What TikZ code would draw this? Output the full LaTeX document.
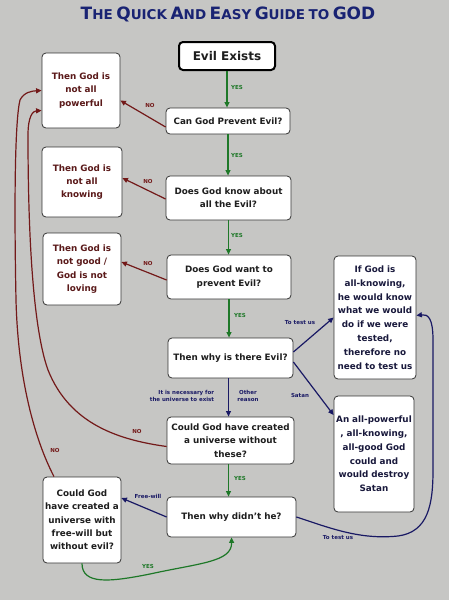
\documentclass[tikz,border=0pt]{standalone}
\usepackage{fontspec}
\setmainfont{DejaVu Sans}
\usetikzlibrary{arrows.meta}
\definecolor{bg}{RGB}{198,198,196}
\definecolor{redc}{RGB}{115,25,25}
\definecolor{greenc}{RGB}{30,120,40}
\definecolor{bluec}{RGB}{25,25,100}
\definecolor{titlec}{RGB}{25,35,115}
\definecolor{lefttxt}{RGB}{90,25,25}
\definecolor{midtxt}{RGB}{30,30,30}
\definecolor{righttxt}{RGB}{25,25,60}
\begin{document}
\begin{tikzpicture}[x=1pt,y=-1pt,
  box/.style={draw=black!80, fill=white, rounded corners=4pt, line width=0.8pt, align=center, inner sep=0pt,
    font=\fontsize{8.8}{13.3}\selectfont\bfseries},
  leftbox/.style={box, text=lefttxt},
  midbox/.style={box, text=midtxt},
  rightbox/.style={box, text=righttxt, font=\fontsize{8.8}{13.8}\selectfont\bfseries},
  arr/.style={line width=1.2pt, -{Triangle[length=5.5pt,width=5pt]}},
  garr/.style={arr, draw=greenc},
  rarr/.style={arr, draw=redc},
  barr/.style={arr, draw=bluec},
  lbl/.style={font=\fontsize{5.5}{6.5}\selectfont\bfseries, inner sep=0pt, align=center},
  glbl/.style={lbl, text=greenc},
  rlbl/.style={lbl, text=redc},
  blbl/.style={lbl, text=bluec},
  big/.style={}
]
\fill[bg] (0,0) rectangle (449,600);
\useasboundingbox (0,0) rectangle (449,600);

\newcommand{\bigL}[1]{{\fontsize{17}{18}\selectfont #1}}
\newcommand{\smallL}[1]{{\fontsize{13.5}{14}\selectfont #1}}
\node[text=titlec, font=\bfseries, inner sep=0pt] (title) at (228,14)
  {\bigL{T}\smallL{HE} \bigL{Q}\smallL{UICK} \bigL{A}\smallL{ND} \bigL{E}\smallL{ASY} \bigL{G}\smallL{UIDE} \smallL{TO} \bigL{GOD}};

\node[box, line width=2pt, draw=black, text=midtxt, font=\fontsize{12}{14}\selectfont\bfseries, minimum width=96pt, minimum height=28pt] (ev) at (227,56) {Evil Exists};

\node[leftbox, minimum width=78pt, minimum height=75pt, text width=74pt] (p1) at (81,90.5) {Then God is\\not all\\powerful};
\node[leftbox, minimum width=80pt, minimum height=70pt, text width=76pt] (p2) at (82,182) {Then God is\\not all\\knowing};
\node[leftbox, minimum width=78pt, minimum height=72pt, text width=74pt] (p3) at (82,269) {Then God is\\not good /\\God is not\\loving};
\node[leftbox, text=midtxt, minimum width=78pt, minimum height=86pt, text width=76pt] (p4) at (82,520) {Could God\\have created a\\universe with\\free-will but\\without evil?};

\node[midbox, minimum width=124pt, minimum height=26pt, text width=120pt] (q1) at (228,121) {Can God Prevent Evil?};
\node[midbox, minimum width=125pt, minimum height=44pt, text width=121pt] (q2) at (228.5,198) {Does God know about\\all the Evil?};
\node[midbox, minimum width=124pt, minimum height=44pt, text width=120pt] (q3) at (229,277) {Does God want to\\prevent Evil?};
\node[midbox, minimum width=125pt, minimum height=40pt, text width=121pt] (q4) at (230.5,358) {Then why is there Evil?};
\node[midbox, minimum width=127pt, minimum height=47pt, text width=123pt] (q5) at (230.5,440.5) {Could God have created\\a universe without\\these?};
\node[midbox, minimum width=129pt, minimum height=40pt, text width=125pt] (q6) at (231.5,517) {Then why didn't he?};

\node[rightbox, minimum width=82pt, minimum height=123pt, text width=80pt] (r1) at (375,317.5) {If God is\\all-knowing,\\he would know\\what we would\\do if we were\\tested,\\therefore no\\need to test us};
\node[rightbox, minimum width=80pt, minimum height=116pt, text width=78pt] (r2) at (374,454) {An all-powerful\\, all-knowing,\\all-good God\\could and\\would destroy\\Satan};

% green YES arrows
\draw[garr] (ev.south) -- (ev.south |- q1.north);
\node[glbl] (y1) at (237,87) {YES};
\draw[garr] (q1.south) -- (q1.south |- q2.north);
\node[glbl] (y2) at (237,155) {YES};
\draw[garr] (q2.south) -- (q2.south |- q3.north);
\node[glbl] (y3) at (237,235) {YES};
\draw[garr] (q3.south) -- (q3.south |- q4.north);
\node[glbl] (y4) at (240,315) {YES};
\draw[barr] ([xshift=-2pt]q4.south) -- ([xshift=-2pt]q4.south |- q5.north);
\node[blbl, align=right] (l1) at (182,396) {It is necessary for\\the universe to exist};
\node[blbl] (l2) at (248,396) {Other\\reason};
\draw[garr] ([xshift=-2pt]q5.south) -- ([xshift=-2pt]q5.south |- q6.north);
\node[glbl] (y5) at (240,478) {YES};

% red NO arrows
\draw[rarr] ([yshift=-6pt]q1.west) -- ([yshift=-10pt]p1.east);
\node[rlbl] (n1) at (150,105) {NO};
\draw[rarr] ([yshift=-1pt]q2.west) -- ([yshift=4pt]p2.east);
\node[rlbl] (n2) at (148,181) {NO};
\draw[rarr] ([yshift=-3pt]q3.west) -- ([yshift=7pt]p3.east);
\node[rlbl] (n3) at (148,263) {NO};

% blue arrows from q4
\draw[barr] ([yshift=6pt]q4.east) -- (r1.west);
\node[blbl] (t1) at (300,323) {To test us};
\draw[barr] ([yshift=-4pt]q4.east) -- ([yshift=39pt]r2.west);
\node[blbl] (s1) at (300,395) {Satan};

% q6 arrows
\draw[barr] (q6.west) -- ([yshift=22pt]p4.east);
\node[blbl] (f1) at (148,496) {Free-will};
\draw[barr] (q6.east) .. controls (330,528) and (360,540) .. (398,536)
  .. controls (428,532) and (433,505) .. (433,470) -- (433,340)
  .. controls (433,318) and (428,314) .. ([yshift=2pt]r1.east);
\node[blbl] (t2) at (338,538) {To test us};
\draw[garr] (p4.south) .. controls (82,585) and (110,582) .. (150,574)
  .. controls (200,563) and (232,562) .. (q6.south);
\node[glbl] (y6) at (148,566) {YES};

% long red curves
\draw[rarr] ([yshift=-6pt]q5.west) .. controls (120,440) and (70,425) .. (48,370)
  .. controls (30,320) and (28,200) .. (28,135)
  .. controls (28,116) and (33,111) .. ([yshift=-20pt]p1.west);
\node[rlbl] (n4) at (137,431) {NO};
\draw[rarr] ([xshift=-28pt]p4.north) .. controls (35,440) and (18,380) .. (16,300)
  .. controls (14,200) and (15,120) .. (20,100)
  .. controls (24,92) and (32,91) .. (p1.west);
\node[rlbl] (n5) at (55,450) {NO};
\end{tikzpicture}
\end{document}
